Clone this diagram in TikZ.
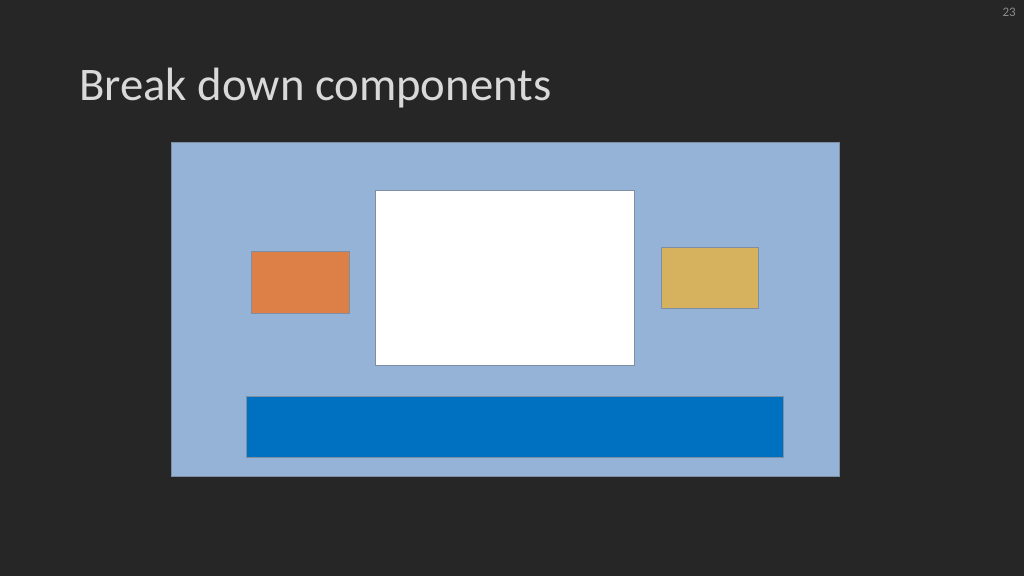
\documentclass[tikz,border=0pt]{standalone}
\usepackage{fontspec}
\setmainfont{Carlito}
\definecolor{bg}{HTML}{262626}
\definecolor{panel}{HTML}{95B3D7}
\definecolor{edge}{HTML}{7F8FA3}
\definecolor{orangebox}{HTML}{DD8047}
\definecolor{goldbox}{HTML}{D6B25E}
\definecolor{bluebar}{HTML}{0070C0}
\definecolor{titlecol}{HTML}{D9D9D9}
\definecolor{numcol}{HTML}{8C8C8C}
\tikzset{
  blockbox/.style={draw=edge, line width=0.8pt},
}
\begin{document}
\begin{tikzpicture}[x=1pt,y=-1pt]
\useasboundingbox (0,0) rectangle (1024,576);
\fill[bg] (0,0) rectangle (1024,576);
\node[anchor=base west, inner sep=0pt, text=titlecol, font=\fontsize{46.7}{52}\selectfont] (title) at (79,100) {Break down components};
\node[anchor=base east, inner sep=0pt, text=numcol, font=\fontsize{13}{15}\selectfont] (pagenum) at (1016,16) {23};
\draw[blockbox, fill=panel] (171,142) rectangle (839,476);
\draw[blockbox, fill=white] (375,190) rectangle (634,365);
\draw[blockbox, fill=orangebox] (251,251) rectangle (349,313);
\draw[blockbox, fill=goldbox] (661,247) rectangle (758,308);
\draw[blockbox, fill=bluebar] (246,396) rectangle (783,457);
\end{tikzpicture}
\end{document}
